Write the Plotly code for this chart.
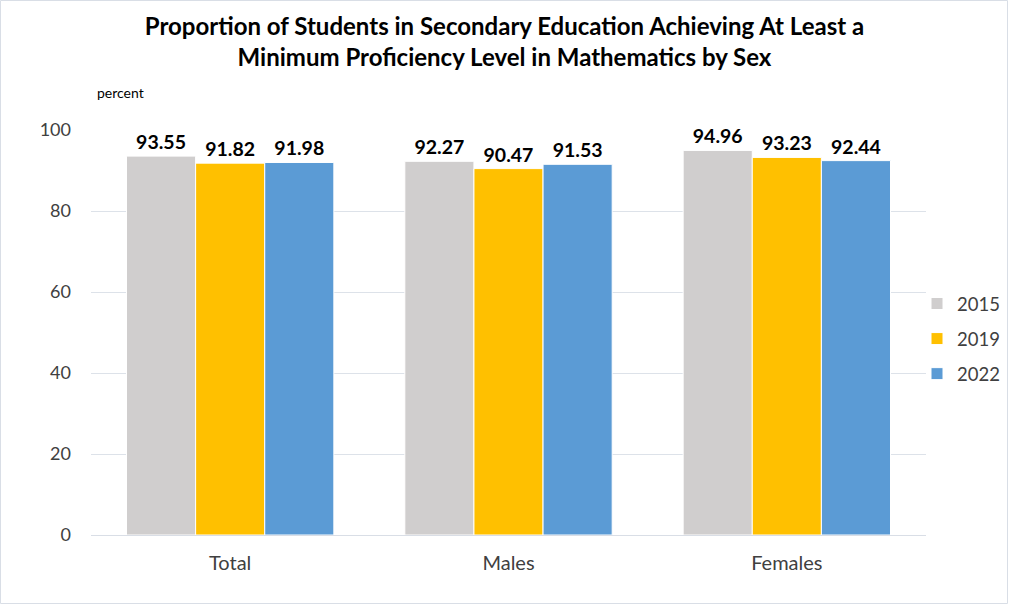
import plotly.graph_objects as go

categories = ["Total", "Males", "Females"]
years = ["2015", "2019", "2022"]
values_2015 = [93.55, 92.27, 94.96]
values_2019 = [91.82, 90.47, 93.23]
values_2022 = [91.98, 91.53, 92.44]
colors = ["#D0CECE", "#FFC000", "#5B9BD5"]

series = [values_2015, values_2019, values_2022]
FONT = "Lato"

fig = go.Figure()
for name, vals, col in zip(years, series, colors):
    fig.add_trace(go.Bar(
        x=categories, y=vals, name=name, legendgroup=name,
        marker=dict(color=col, line=dict(color="white", width=1)),
        texttemplate="<b>%{y:.2f}</b>", textposition="outside",
        textfont=dict(family=FONT, size=19.5, color="black"),
        cliponaxis=False,
    ))

W, H = 1009, 605
L, R, T, B = 91, 83, 130, 70
pw, ph = W - L - R, H - T - B

fig.update_layout(
    width=W, height=H, autosize=False,
    margin=dict(l=L, r=R, t=T, b=B, autoexpand=False),
    paper_bgcolor="white", plot_bgcolor="white",
    barmode="group", bargap=0.255, bargroupgap=0.0,
    font=dict(family=FONT, color="#404040"),
    title=dict(
        text="<b>Proportion of Students in Secondary Education Achieving At Least a<br>Minimum Proficiency Level in Mathematics by Sex</b>",
        x=0.5, xanchor="center", y=1 - 35 / H, yanchor="middle",
        font=dict(family=FONT, size=24, color="black"),
    ),
    xaxis=dict(
        showgrid=False, ticks="", showline=True, linecolor="#D9DEE6", linewidth=1,
        tickfont=dict(family=FONT, size=20, color="#404040"),
        ticklabelstandoff=10,
    ),
    yaxis=dict(
        range=[0, 100], tickvals=[0, 20, 40, 60, 80, 100],
        showgrid=True, gridcolor="#DDE2E9", gridwidth=1,
        zeroline=False, showline=False, ticks="",
        tickfont=dict(family=FONT, size=18, color="#404040"),
        ticklabelstandoff=19,
    ),
    legend=dict(
        x=(917 - L) / pw, xanchor="left", y=1 - (339 - T) / ph, yanchor="middle",
        font=dict(family=FONT, size=18.5, color="#404040"),
        tracegroupgap=8, itemwidth=30, bgcolor="rgba(0,0,0,0)",
    ),
    showlegend=True,
    annotations=[dict(
        text="percent", xref="paper", yref="paper",
        x=(95 - L) / pw, y=1 + (130 - 93) / ph, xanchor="left", yanchor="middle",
        showarrow=False, font=dict(family=FONT, size=14, color="black"),
    )],
    shapes=[dict(
        type="rect", xref="paper", yref="paper",
        x0=-(L - 0.5) / pw, x1=1 + (R - 1.5) / pw,
        y0=-(B - 1.5) / ph, y1=1 + (T - 0.5) / ph,
        line=dict(color="#D9DEE6", width=1), fillcolor="rgba(0,0,0,0)",
        layer="below",
    )],
)

fig.write_html(
    "out.html",
    config={"responsive": False, "displayModeBar": False},
    post_script="document.body.style.margin='0px';document.body.style.overflow='hidden';",
)
